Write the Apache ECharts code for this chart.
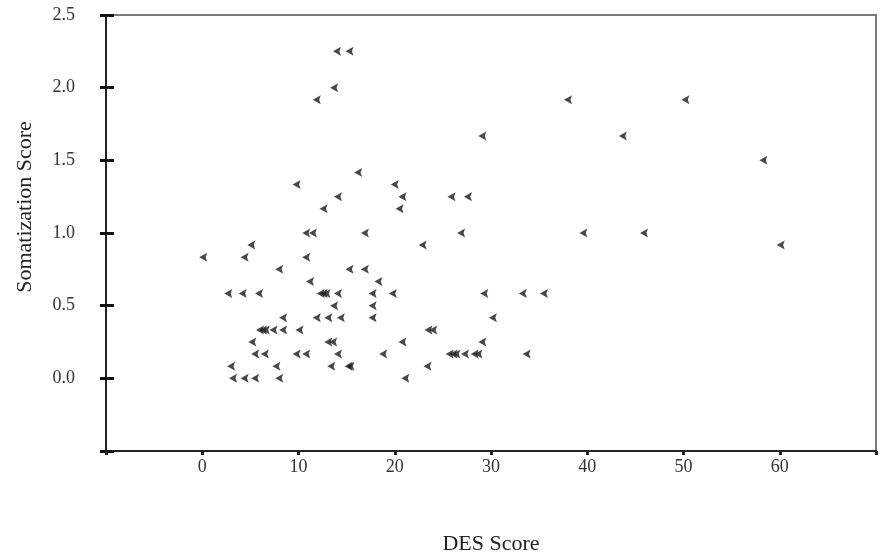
<!DOCTYPE html>
<html>
<head>
<meta charset="utf-8">
<script src="https://cdn.jsdelivr.net/npm/echarts@6/dist/echarts.min.js"></script>
<style>
  html, body { margin: 0; padding: 0; background: #fff; }
  #chart { width: 886px; height: 556px; }
</style>
</head>
<body>
<div id="chart"></div>
<script>
// DES score (x) and somatization score (y), one entry per subject, grouped by row
const desScores = [
  3.2, 4.4, 5.5, 8.0, 21.1,
  3.0, 7.7, 13.4, 15.2, 15.4, 23.4,
  5.5, 6.5, 9.8, 10.8, 14.1, 18.8, 25.7, 26.1, 26.4, 27.3, 28.3, 28.7, 33.7,
  5.2, 13.1, 13.6, 20.8, 29.1,
  6.0, 6.3, 6.6, 7.4, 8.4, 10.1, 23.5, 24.0,
  8.4, 11.9, 13.1, 14.4, 17.7, 30.2,
  13.7, 17.7,
  2.7, 4.2, 5.9, 12.3, 12.6, 12.9, 14.1, 17.7, 19.8, 29.3, 33.3, 35.5,
  11.2, 18.3,
  8.0, 15.3, 16.9,
  0.1, 4.4, 10.8,
  5.1, 22.9, 60.1,
  10.8, 11.5, 16.9, 26.9, 39.6, 45.9,
  12.6, 20.5,
  14.1, 20.8, 25.9, 27.6,
  9.8, 20.0,
  16.2,
  58.3,
  29.1, 43.7,
  11.9, 38.0, 50.2,
  13.7,
  14.0, 15.3
]
const somatizationScores = [
  0, 0, 0, 0, 0,
  0.083, 0.083, 0.083, 0.083, 0.083, 0.083,
  0.167, 0.167, 0.167, 0.167, 0.167, 0.167, 0.167, 0.167, 0.167, 0.167, 0.167, 0.167, 0.167,
  0.25, 0.25, 0.25, 0.25, 0.25,
  0.333, 0.333, 0.333, 0.333, 0.333, 0.333, 0.333, 0.333,
  0.417, 0.417, 0.417, 0.417, 0.417, 0.417,
  0.5, 0.5,
  0.583, 0.583, 0.583, 0.583, 0.583, 0.583, 0.583, 0.583, 0.583, 0.583, 0.583, 0.583,
  0.667, 0.667,
  0.75, 0.75, 0.75,
  0.833, 0.833, 0.833,
  0.917, 0.917, 0.917,
  1, 1, 1, 1, 1, 1,
  1.167, 1.167,
  1.25, 1.25, 1.25, 1.25,
  1.333, 1.333,
  1.417,
  1.5,
  1.667, 1.667,
  1.917, 1.917, 1.917,
  2,
  2.25, 2.25
]

const serif = '"Liberation Serif", "DejaVu Serif", serif'
const points = desScores.map((x, i) => [x, somatizationScores[i]])

let chart = echarts.init(document.getElementById('chart'), null, { renderer: 'canvas' })
let option = {
  backgroundColor: '#fff',
  animation: false,
  grid: {
    left: 106, right: 10, top: 15, bottom: 105,
    show: true,
    borderColor: '#7a7a7a',
    borderWidth: 2,
    outerBoundsMode: 'none'
  },
  xAxis: {
    type: 'value',
    min: -10, max: 70, interval: 10,
    position: 'bottom',
    axisLine: { onZero: false, lineStyle: { color: '#222', width: 2 } },
    axisTick: { show: true, length: 4, lineStyle: { color: '#222', width: 3 } },
    axisLabel: {
      margin: 7,
      fontFamily: serif, fontSize: 18, color: '#333',
      formatter: v => (v < 0 || v > 60) ? '' : String(v)
    },
    splitLine: { show: false },
    name: 'DES Score',
    nameLocation: 'middle',
    nameGap: 82,
    nameTextStyle: { fontFamily: serif, fontSize: 22, color: '#222' }
  },
  yAxis: [
    {
      type: 'value',
      min: -0.5, max: 2.5, interval: 0.5,
      position: 'left',
      axisLine: { onZero: false, lineStyle: { color: '#222', width: 2 } },
      axisTick: { show: true, length: 6, lineStyle: { color: '#111', width: 3 } },
      axisLabel: {
        margin: 31,
        fontFamily: serif, fontSize: 18, color: '#333',
        formatter: v => v < 0 ? '' : v.toFixed(1)
      },
      splitLine: { show: false },
      name: 'Somatization Score',
      nameLocation: 'middle',
      nameGap: 70,
      // title sits a little above the middle of the axis
      nameTextStyle: { fontFamily: serif, fontSize: 22, color: '#222', padding: [0, 0, 0, 52] }
    },
    {
      // inner half of the cross ticks on the y axis
      type: 'value',
      min: -0.5, max: 2.5, interval: 0.5,
      position: 'left',
      axisLine: { show: false, onZero: false },
      axisTick: { show: true, inside: true, length: 8, lineStyle: { color: '#111', width: 3 } },
      axisLabel: { show: false },
      splitLine: { show: false }
    }
  ],
  series: [
    {
      type: 'scatter',
      yAxisIndex: 0,
      symbol: 'path://M0,5L10,0L8,5L10,10Z',
      symbolSize: [8, 9],
      itemStyle: { color: '#1a1a1a' },
      silent: true,
      data: points
    }
  ]
}
chart.setOption(option)
</script>
</body>
</html>
